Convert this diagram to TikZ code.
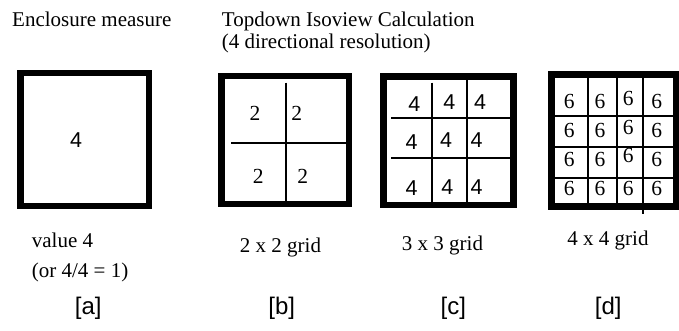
\documentclass[tikz,border=0pt]{standalone}
\usepackage{fontspec}
\setmainfont{Liberation Serif}
\setsansfont{Liberation Sans}
\usetikzlibrary{positioning}

\tikzset{
    frame/.style={draw, line width=6.5pt, minimum width=#1, inner sep=0pt},
    gridln/.style={line width=1.8pt},
    rmnum/.style={inner sep=0pt, font=\fontsize{21.5}{23}\selectfont\rmfamily},
    sfnum/.style={inner sep=0pt, font=\fontsize{21.5}{23}\selectfont\sffamily},
    caption/.style={inner sep=0pt, anchor=base west, font=\fontsize{21}{23}\selectfont\rmfamily},
    tag/.style={inner sep=0pt, font=\fontsize{24}{26}\selectfont\sffamily}
}

\begin{document}
\begin{tikzpicture}[x=1pt, y=-1pt]
    \useasboundingbox (0,0) rectangle (679,331);

    % headings
    \node[caption] (headA) at (12,26.7) {Enclosure measure};
    \node[caption] (headB) at (221.7,26.7) {Topdown Isoview Calculation};
    \node[caption] (headC) at (221.7,49) {(4 directional resolution)};

    % [a] enclosure
    \node[frame=128.5pt, minimum height=132.5pt] (boxa) at (84.5,139.5) {};
    \node[sfnum] (vala) at (76,140) {4};

    % [b] 2 x 2
    \node[frame=127.5pt, minimum height=127.5pt] (boxb) at (285,140) {};
    \draw[gridln] (286.3,82.7) -- (286.3,203.8);
    \draw[gridln] (231,142.7) -- (345.5,142.7);
    \node[rmnum] (b11) at (255,113.3) {2};
    \node[rmnum] (b12) at (296.7,113.3) {2};
    \node[rmnum] (b21) at (258.3,176.7) {2};
    \node[rmnum] (b22) at (302.7,176.7) {2};

    % [c] 3 x 3
    \node[frame=130.2pt, minimum height=128.5pt] (boxc) at (448.4,140.8) {};
    \draw[gridln] (432.3,82.7) -- (432.3,205);
    \draw[gridln] (467.3,79.8) -- (467.3,202.7);
    \draw[gridln] (391,118.3) -- (511.7,118.3);
    \draw[gridln] (391,158.3) -- (511.7,158.3);
    \node[sfnum] (c11) at (414.3,104.3) {4};
    \node[sfnum] (c12) at (449.3,102.3) {4};
    \node[sfnum] (c13) at (480,102.3) {4};
    \node[sfnum] (c21) at (411.7,141.7) {4};
    \node[sfnum] (c22) at (446,140) {4};
    \node[sfnum] (c23) at (476.7,140) {4};
    \node[sfnum] (c31) at (411.7,187.7) {4};
    \node[sfnum] (c32) at (447.3,186.7) {4};
    \node[sfnum] (c33) at (476.7,186.7) {4};

    % [d] 4 x 4
    \node[frame=125pt, minimum height=132pt] (boxd) at (614,140.5) {};
    \draw[gridln] (587.7,76.5) -- (587.7,204.5);
    \draw[gridln] (616.7,76.5) -- (616.7,204.5);
    \draw[gridln] (643.3,76.5) -- (643.3,214);
    \foreach \y in {116,147.3,178.3}
        \draw[gridln] (554.8,\y) -- (674,\y);
    \foreach \y [count=\r] in {101.7,130.7,159.3,188.3} {
        \node[rmnum] (d\r1) at (569.3,\y) {6};
        \node[rmnum] (d\r2) at (600,\y) {6};
        \node[rmnum] (d\r4) at (656.7,\y) {6};
    }
    \node[rmnum] (d13) at (628.3,98.3) {6};
    \node[rmnum] (d23) at (628.3,127.3) {6};
    \node[rmnum] (d33) at (628.3,155.9) {6};
    \node[rmnum] (d43) at (628.3,188.3) {6};

    % captions
    \node[caption] (capa) at (31.7,247.5) {value 4};
    \node[caption] (capa2) at (31.7,277) {(or 4/4 = 1)};
    \node[caption, anchor=base] (capb) at (280.5,252.7) {2 x 2 grid};
    \node[caption, anchor=base] (capc) at (442.5,250) {3 x 3 grid};
    \node[caption, anchor=base] (capd) at (608,245) {4 x 4 grid};

    % tags
    \node[tag] (taga) at (88.3,308) {[a]};
    \node[tag] (tagb) at (281.7,308) {[b]};
    \node[tag] (tagc) at (453.3,308) {[c]};
    \node[tag] (tagd) at (608.3,308) {[d]};
\end{tikzpicture}
\end{document}
